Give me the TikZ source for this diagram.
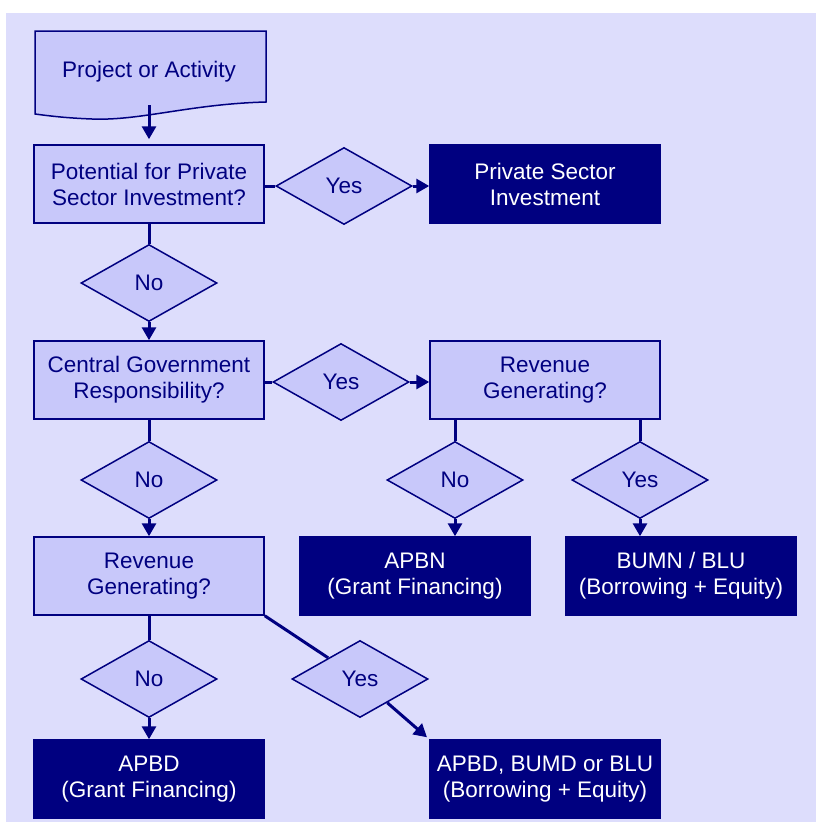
\documentclass[tikz,border=0pt]{standalone}
\usepackage{fontspec}
\setmainfont{Liberation Sans}
\usetikzlibrary{shapes.geometric,arrows.meta}

\definecolor{navy}{RGB}{0,0,128}
\definecolor{paleback}{RGB}{221,221,252}
\definecolor{palefill}{RGB}{200,200,250}

\tikzset{
  qbox/.style={draw=navy, fill=palefill, line width=1.5pt, minimum width=230pt, minimum height=78pt,
    inner sep=0pt, align=center, text=navy, font=\fontsize{22.5}{26}\selectfont},
  endbox/.style={qbox, fill=navy, text=white},
  choice/.style={diamond, draw=navy, fill=palefill, line width=1.5pt, minimum width=136pt,
    minimum height=77pt, inner sep=0pt, text=navy, font=\fontsize{22.5}{26}\selectfont},
  link/.style={draw=navy, line width=3pt},
  linkarrow/.style={link, -{Triangle[width=14pt,length=13pt]}}
}

\begin{document}
\begin{tikzpicture}[x=1pt,y=1pt,yscale=-1,xscale=1]
\useasboundingbox (0,0) rectangle (816,822);
%Shape: Background
\fill[paleback] (6,13) rectangle (816,822);

%Shape: Document
\draw[draw=navy, fill=palefill, line width=1.5pt] (35,31) -- (266,31) -- (266,102) .. controls (190,104) and (140,121) .. (92,119) .. controls (66,118) and (50,116) .. (35,114) -- cycle;
% Text Node
\node[text=navy, font=\fontsize{22.5}{26}\selectfont, minimum height=80pt, inner sep=0pt] (proj) at (149,72) {Project or Activity};

% Questions
\node[qbox] (q1) at (149,184) {Potential for Private\\Sector Investment?};
\node[qbox] (q2) at (149,380) {Central Government\\Responsibility?};
\node[qbox] (rev1) at (545,380) {Revenue\\Generating?};
\node[qbox] (rev2) at (149,576) {Revenue\\Generating?};

% Outcomes
\node[endbox] (psi) at (545,184) {Private Sector\\Investment};
\node[endbox] (apbn) at (415,576) {APBN\\(Grant Financing)};
\node[endbox] (bumn) at (681,576) {BUMN / BLU\\(Borrowing + Equity)};
\node[endbox] (apbd) at (149,779) {APBD\\(Grant Financing)};
\node[endbox] (apbdx) at (545,779) {APBD, BUMD or BLU\\(Borrowing + Equity)};

% Decisions
\node[choice] (yes1) at (344,186) {Yes};
\node[choice] (no1) at (149,283) {No};
\node[choice] (yes2) at (341,382) {Yes};
\node[choice] (no2) at (149,480) {No};
\node[choice] (no3) at (455,480) {No};
\node[choice] (yes3) at (640,480) {Yes};
\node[choice] (no4) at (149,679) {No};
\node[choice] (yes4) at (360,679) {Yes};

% Connectors
\draw[linkarrow, shorten >=5pt] ([yshift=-7pt]proj.south) -- (q1.north);
\draw[link] (yes1.west -| q1.east) -- (yes1.west);
\draw[linkarrow] (yes1.east) -- (yes1.east -| psi.west);
\draw[link] (q1.south) -- (no1.north);
\draw[linkarrow] (no1.south) -- (q2.north);
\draw[link] (yes2.west -| q2.east) -- (yes2.west);
\draw[linkarrow] (yes2.east) -- (yes2.east -| rev1.west);
\draw[link] (q2.south) -- (no2.north);
\draw[linkarrow] (no2.south) -- (rev2.north);
\draw[link] (no3.north |- rev1.south) -- (no3.north);
\draw[linkarrow] (no3.south) -- (no3.south |- apbn.north);
\draw[link] (yes3.north |- rev1.south) -- (yes3.north);
\draw[linkarrow] (yes3.south) -- (yes3.south |- bumn.north);
\draw[link] (rev2.south) -- (no4.north);
\draw[linkarrow] (no4.south) -- (apbd.north);
\draw[link] (rev2.south east) -- (yes4);
\draw[linkarrow, shorten >=3pt] (yes4) -- (apbdx.north west);

\end{tikzpicture}
\end{document}
